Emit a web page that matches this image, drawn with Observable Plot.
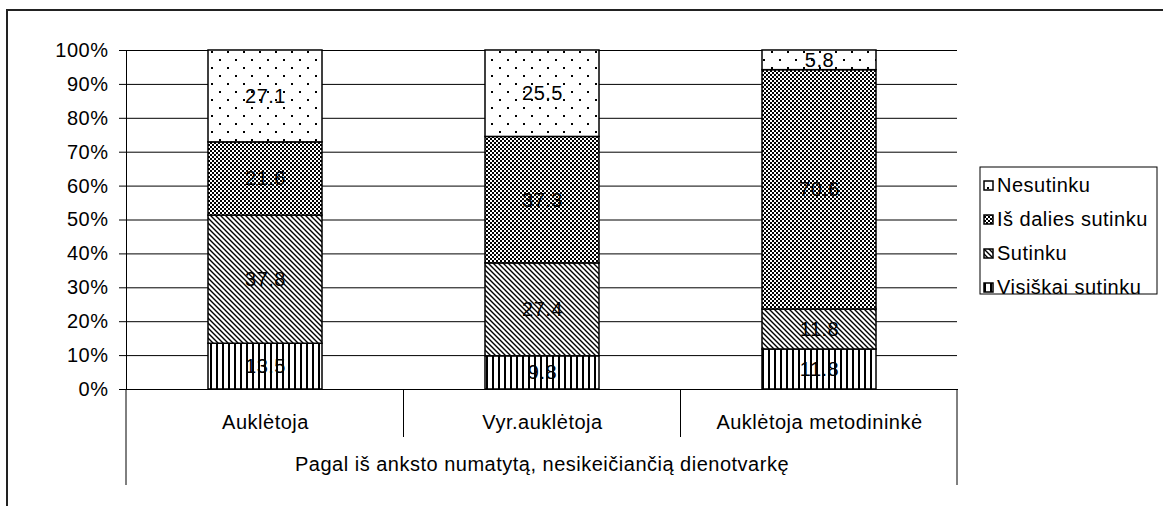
<!DOCTYPE html>
<html><head><meta charset="utf-8">
<script src="https://cdn.jsdelivr.net/npm/d3@7"></script>
<script src="https://cdn.jsdelivr.net/npm/@observablehq/plot@0.6"></script>
<style>html,body{margin:0;padding:0;background:#fff;} svg{display:block} svg text{letter-spacing:0.5px}</style>
</head><body><div id="chart"></div>
<script>
const categories = ["Auklėtoja", "Vyr.auklėtoja", "Auklėtoja metodininkė"];
const groupLabel = "Pagal iš anksto numatytą, nesikeičiančią dienotvarkę";
const series = ["Visiškai sutinku", "Sutinku", "Iš dalies sutinku", "Nesutinku"];
const visiskaiSutinku = [13.5, 9.8, 11.8];
const sutinku = [37.8, 27.4, 11.8];
const isDaliesSutinku = [21.6, 37.3, 70.6];
const nesutinku = [27.1, 25.5, 5.8];
const yTicks = [0, 10, 20, 30, 40, 50, 60, 70, 80, 90, 100];
const patternIds = ["pVis", "pSut", "pDal", "pNes"];

const seriesValues = [visiskaiSutinku, sutinku, isDaliesSutinku, nesutinku];
const data = [];
series.forEach((s, i) => categories.forEach((c, j) => data.push({category: c, series: s, value: seriesValues[i][j]})));

const FONT = "'Liberation Sans', Arial, sans-serif";
const FS = 20;

const plot = Plot.plot({
  width: 1163, height: 506,
  marginLeft: 126, marginRight: 206, marginTop: 50, marginBottom: 117,
  style: {fontFamily: FONT, fontSize: FS + "px", color: "#000", background: "#fff", overflow: "visible"},
  x: {domain: categories, paddingInner: 0.59, paddingOuter: 0.295, label: null},
  y: {domain: [0, 100], label: null},
  color: {domain: series, range: patternIds.map(id => `url(#${id})`)},
  marks: [
    Plot.gridY(yTicks, {stroke: "#000", strokeOpacity: 1, strokeWidth: 1}),
    Plot.barY(data, Plot.stackY({x: "category", y: "value", fill: "series", stroke: "#000", strokeWidth: 1.5})),
    Plot.text(data, Plot.stackY({x: "category", y: "value", text: d => d.value.toFixed(1), fill: "#000", fontSize: FS})),
    Plot.frame({anchor: "left", stroke: "#000"}),
    Plot.frame({anchor: "bottom", stroke: "#000"}),
    Plot.axisY(yTicks, {tickFormat: d => d + "%", tickSize: 7, tickPadding: 11, fontSize: FS}),
    Plot.axisX({tickSize: 0, tickPadding: 25, fontSize: FS}),
    Plot.text([groupLabel], {frameAnchor: "bottom", dy: 81, text: d => d, fontSize: FS, fill: "#000"})
  ]
});

const svg = d3.select(plot);
const defs = svg.insert("defs", ":first-child");
// Visiškai sutinku: vertical lines
let p = defs.append("pattern").attr("id", "pVis").attr("patternUnits", "userSpaceOnUse").attr("width", 6).attr("height", 6);
p.append("rect").attr("width", 6).attr("height", 6).attr("fill", "#fff");
p.append("rect").attr("x", 0).attr("width", 2).attr("height", 6).attr("fill", "#000");
// Sutinku: diagonal lines
p = defs.append("pattern").attr("id", "pSut").attr("patternUnits", "userSpaceOnUse").attr("width", 5).attr("height", 5);
p.append("rect").attr("width", 5).attr("height", 5).attr("fill", "#fff");
p.append("path").attr("d", "M0,0L5,5M-1,4L1,6M4,-1L6,1").attr("stroke", "#000").attr("stroke-width", 1.4);
// Iš dalies sutinku: checkerboard
p = defs.append("pattern").attr("id", "pDal").attr("patternUnits", "userSpaceOnUse").attr("width", 4).attr("height", 4);
p.append("rect").attr("width", 4).attr("height", 4).attr("fill", "#fff");
p.append("rect").attr("width", 2).attr("height", 2).attr("fill", "#000");
p.append("rect").attr("x", 2).attr("y", 2).attr("width", 2).attr("height", 2).attr("fill", "#000");
// Nesutinku: sparse dots
p = defs.append("pattern").attr("id", "pNes").attr("patternUnits", "userSpaceOnUse").attr("width", 16).attr("height", 16);
p.append("rect").attr("width", 16).attr("height", 16).attr("fill", "#fff");
p.append("rect").attr("x", 3).attr("y", 3).attr("width", 2).attr("height", 2).attr("fill", "#000");
p.append("rect").attr("x", 11).attr("y", 11).attr("width", 2).attr("height", 2).attr("fill", "#000");

// category separators computed from scales
const xs = plot.scale("x"), ys = plot.scale("y");
const y0 = ys.apply(0);
const starts = categories.map(c => xs.apply(c));
const bounds = [xs.range[0]];
for (let i = 0; i < categories.length - 1; i++) bounds.push((starts[i] + xs.bandwidth + starts[i + 1]) / 2);
bounds.push(xs.range[1]);
const deco = svg.append("g").attr("stroke", "#000").attr("stroke-width", 1);
bounds.forEach((b, i) => {
  const outer = i === 0 || i === bounds.length - 1;
  deco.append("line").attr("x1", b).attr("x2", b).attr("y1", y0).attr("y2", y0 + (outer ? 96 : 48));
});

// outer chart-area border
svg.append("path").attr("d", "M7,506V10H1163").attr("fill", "none").attr("stroke", "#222").attr("stroke-width", 2);

// legend
const legendItems = series.slice().reverse();
const lg = svg.append("g").attr("font-family", FONT).attr("font-size", FS).attr("text-anchor", "start");
lg.append("rect").attr("x", 980).attr("y", 167).attr("width", 177).attr("height", 127).attr("fill", "#fff").attr("stroke", "#000");
legendItems.forEach((s, i) => {
  const cy = 185 + i * 34;
  lg.append("rect").attr("x", 984).attr("y", cy - 4).attr("width", 9).attr("height", 9)
    .attr("fill", `url(#${patternIds[series.indexOf(s)]})`).attr("stroke", "#000").attr("stroke-width", 1.5);
  lg.append("text").attr("x", 997).attr("y", cy).attr("dy", "0.35em").attr("fill", "#000").text(s);
});

document.getElementById("chart").appendChild(plot);
</script>
</body></html>
